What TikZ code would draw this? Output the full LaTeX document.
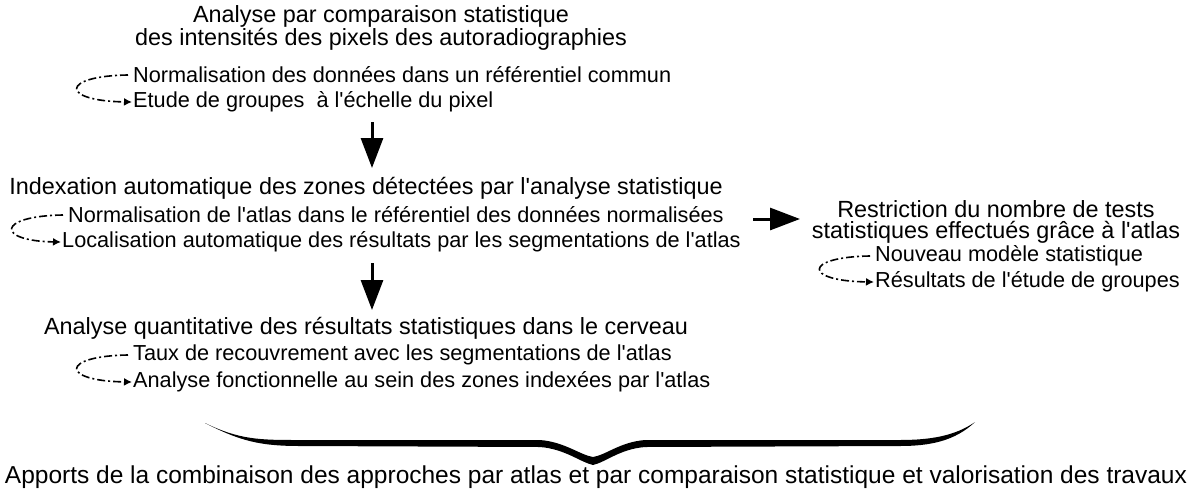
\documentclass[tikz,border=0pt]{standalone}
\usepackage{fontspec}
\newfontfamily\lib{Liberation Sans}
\usetikzlibrary{arrows.meta}
\begin{document}
\begin{tikzpicture}[x=1pt,y=-1pt,
  title/.style={inner sep=0pt,font=\lib\fontsize{23.4}{21.5}\selectfont,align=center},
  bottomtext/.style={inner sep=0pt,font=\lib\fontsize{24.5}{24}\selectfont},
  item/.style={inner sep=0pt,anchor=west,font=\lib\fontsize{21.7}{22}\selectfont},
  loop/.style={line width=1.6pt,dash pattern=on 8pt off 3pt on 2pt off 3pt,-{Latex[length=8pt,width=8pt]}},
  bigarrow/.style={line width=3pt,-{Triangle[length=30pt,width=22pt]}},
  brace/.style={fill=black}]
\useasboundingbox (0,0) rectangle (1193,493);
% block 1
\node[title] (t1) at (381,28) {Analyse par comparaison statistique\\des intensités des pixels des autoradiographies};
\node[item] (a1) at (133,75) {Normalisation des données dans un référentiel commun};
\node[item] (b1) at (133,102) {Etude de groupes\ \ à l'échelle du pixel};
\draw[loop] ([xshift=-5pt]a1.west) .. controls (60,76) and (60,101) .. ([xshift=-1pt]b1.west);
% arrow 1
\coordinate (d1s) at (372,122);
\coordinate (d1e) at (372,168);
\draw[bigarrow] (d1s) -- (d1e);
% block 2
\node[title] (t2) at (366,188) {Indexation automatique des zones détectées par l'analyse statistique};
\node[item] (a2) at (68,215) {Normalisation de l'atlas dans le référentiel des données normalisées};
\node[item] (b2) at (62,242) {Localisation automatique des résultats par les segmentations de l'atlas};
\draw[loop] ([xshift=-5pt]a2.west) .. controls (-4,216) and (-4,241) .. ([xshift=-1pt]b2.west);
% arrow right
\coordinate (r1s) at (753,219);
\coordinate (r1e) at (800,219);
\draw[bigarrow] (r1s) -- (r1e);
% block 3
\node[title] (t3) at (996,222) {Restriction du nombre de tests\\statistiques effectués grâce à l'atlas};
\node[item] (a3) at (875,256) {Nouveau modèle statistique};
\node[item] (b3) at (875,282) {Résultats de l'étude de groupes};
\draw[loop] ([xshift=-5pt]a3.west) .. controls (803,257) and (803,281) .. ([xshift=-1pt]b3.west);
% arrow 2
\coordinate (d2s) at (372,263);
\coordinate (d2e) at (372,310);
\draw[bigarrow] (d2s) -- (d2e);
% block 4
\node[title] (t4) at (366,328) {Analyse quantitative des résultats statistiques dans le cerveau};
\node[item] (a4) at (133,355) {Taux de recouvrement avec les segmentations de l'atlas};
\node[item] (b4) at (133,382) {Analyse fonctionnelle au sein des zones indexées par l'atlas};
\draw[loop] ([xshift=-5pt]a4.west) .. controls (60,356) and (60,381) .. ([xshift=-1pt]b4.west);
% brace
\fill[brace] (205,423) .. controls (240,440) and (260,440) .. (300,440) -- (540,440)
  .. controls (565,442) and (580,455) .. (593,457)
  .. controls (606,455) and (620,442) .. (645,440) -- (900,440)
  .. controls (930,440) and (955,436) .. (975,422)
  .. controls (955,441) and (930,446) .. (900,446) -- (645,447)
  .. controls (620,449) and (606,462) .. (593,465)
  .. controls (580,462) and (565,449) .. (540,447) -- (300,446)
  .. controls (260,446) and (240,441) .. (205,423) -- cycle;
% bottom
\node[bottomtext] (t5) at (596,477) {Apports de la combinaison des approches par atlas et par comparaison statistique et valorisation des travaux};
\end{tikzpicture}
\end{document}
